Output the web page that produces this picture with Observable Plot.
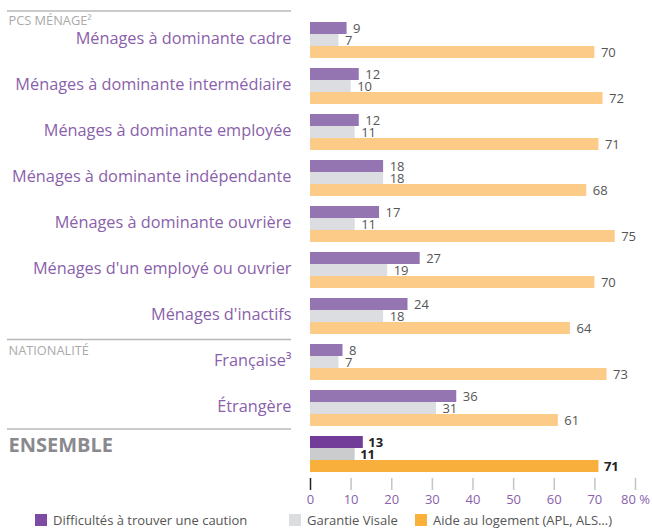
<!DOCTYPE html>
<html>
<head>
<meta charset="utf-8">
<script src="https://cdn.jsdelivr.net/npm/d3@7"></script>
<script src="https://cdn.jsdelivr.net/npm/@observablehq/plot@0.6"></script>
<style>
  html, body { margin: 0; padding: 0; background: #fff; }
  body { width: 652px; height: 528px; overflow: hidden; font-family: "Open Sans", sans-serif; }
  #legend { position: relative; height: 20px; font-size: 13px; color: #555; }
  .item { position: absolute; top: 3px; display: flex; align-items: center; white-space: nowrap; }
  .sw { width: 12px; height: 12px; margin-right: 6px; }
</style>
</head>
<body>
<div id="chart"></div>
<div id="legend"></div>
<script>
// ---- data ----
const categories = [
  "Ménages à dominante cadre",
  "Ménages à dominante intermédiaire",
  "Ménages à dominante employée",
  "Ménages à dominante indépendante",
  "Ménages à dominante ouvrière",
  "Ménages d'un employé ou ouvrier",
  "Ménages d'inactifs",
  "Française³",
  "Étrangère",
  "Ensemble"
];
const caution = [9, 12, 12, 18, 17, 27, 24, 8, 36, 13];
const visale  = [7, 10, 11, 18, 11, 19, 18, 7, 31, 11];
const aide    = [70, 72, 71, 68, 75, 70, 64, 73, 61, 71];
const seriesNames = ["Difficultés à trouver une caution", "Garantie Visale", "Aide au logement (APL, ALS…)"];
const sectionLabels = ["PCS MÉNAGE²", "NATIONALITÉ", "ENSEMBLE"];
const xTicks = [0, 10, 20, 30, 40, 50, 60, 70, 80];

// ---- styles ----
const light = ["#9475b2", "#dcdde0", "#fccb87"];
const dark  = ["#723d98", "#cbcccd", "#f9af3c"];
const legendColors = ["#7b4ca1", "#dcdde0", "#fbb03b"];
const labelPurple = "#8a5fab";

const rows = categories.map((cat, i) => ({cat, caution: caution[i], visale: visale[i], aide: aide[i], ens: cat === "Ensemble"}));
const main = rows.filter(d => !d.ens);
const ens = rows.filter(d => d.ens);

const series = [
  {key: "caution", insetTop: 0, insetBottom: 24, dy: -12},
  {key: "visale", insetTop: 12, insetBottom: 12, dy: 0},
  {key: "aide", insetTop: 24, insetBottom: 0, dy: 12}
];

const marks = [];
series.forEach((s, k) => {
  marks.push(Plot.barX(main, {x: s.key, y: "cat", fill: light[k], insetTop: s.insetTop, insetBottom: s.insetBottom}));
  marks.push(Plot.barX(ens, {x: s.key, y: "cat", fill: dark[k], insetTop: s.insetTop, insetBottom: s.insetBottom}));
  marks.push(Plot.text(main, {x: s.key, y: "cat", text: d => String(d[s.key]), dy: s.dy, dx: 6, textAnchor: "start", fill: "#555", fontSize: 13}));
  marks.push(Plot.text(ens, {x: s.key, y: "cat", text: d => String(d[s.key]), dy: s.dy, dx: 5, textAnchor: "start", fill: "#222", fontSize: 13, fontWeight: "bold"}));
});

// category labels
marks.push(Plot.text(main, {y: "cat", text: "cat", frameAnchor: "left", textAnchor: "end", dx: -19, dy: -2, fill: labelPurple, fontSize: 16.3}));

// section separators (rules in left margin); rules sit at band centre, so shift up
const seps = [{cat: categories[0], dy: -29.5}, {cat: categories[7], dy: -23}, {cat: categories[9], dy: -25.5}];
seps.forEach(s => {
  marks.push(Plot.ruleY([s.cat], {y: d => d, dy: s.dy, insetLeft: -303, insetRight: 344, stroke: "#b8b8b8", strokeWidth: 1.5}));
});

// section labels
marks.push(Plot.text([categories[0]], {y: d => d, text: [sectionLabels[0]], frameAnchor: "left", textAnchor: "start", dx: -302, dy: -20, fill: "#aaa", fontSize: 12.8}));
marks.push(Plot.text([categories[7]], {y: d => d, text: [sectionLabels[1]], frameAnchor: "left", textAnchor: "start", dx: -302, dy: -12, fill: "#aaa", fontSize: 12.8}));
marks.push(Plot.text([categories[9]], {y: d => d, text: [sectionLabels[2]], frameAnchor: "left", textAnchor: "start", dx: -302, dy: -9, fill: "#8a8a8e", fontSize: 20, fontWeight: "bold", style: "letter-spacing:1.6px"}));

// x axis
marks.push(Plot.axisX(xTicks.filter(d => d !== 0), {anchor: "bottom", tickSize: 12, tickPadding: 4, stroke: "#c4c4c4", strokeWidth: 1.5, fill: labelPurple, fontSize: 13, tickFormat: d => d === 80 ? "80 %" : String(d), label: null}));
marks.push(Plot.axisX([0], {anchor: "bottom", tickSize: 12, tickPadding: 4, stroke: "#222", strokeWidth: 1.5, fill: labelPurple, fontSize: 13, tickFormat: d => String(d), label: null}));

const chart = Plot.plot({
  width: 652,
  height: 508,
  marginLeft: 310,
  marginRight: 17,
  marginTop: 20,
  marginBottom: 30,
  style: {fontFamily: "'Open Sans', sans-serif", background: "#fff", overflow: "visible"},
  x: {domain: [0, 80], axis: null},
  y: {domain: categories, range: [20, 473.3], paddingInner: 0.224, paddingOuter: 0, axis: null},
  marks
});
document.getElementById("chart").appendChild(chart);

// legend
const legendPos = [{x: 35}, {x: 289}, {x: 415}];
const lg = document.getElementById("legend");
seriesNames.forEach((name, i) => {
  const it = document.createElement("div");
  it.className = "item";
  it.style.left = legendPos[i].x + "px";
  const sw = document.createElement("span");
  sw.className = "sw";
  sw.style.background = legendColors[i];
  const t = document.createElement("span");
  t.textContent = name;
  it.appendChild(sw); it.appendChild(t);
  lg.appendChild(it);
});
</script>
</body>
</html>
